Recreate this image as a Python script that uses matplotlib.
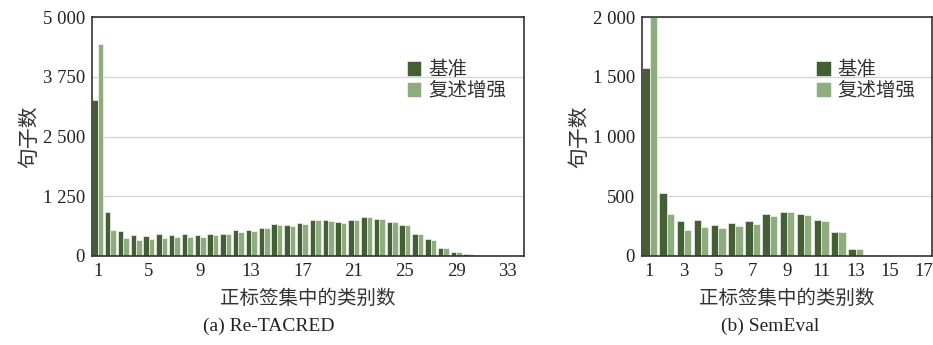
import matplotlib
matplotlib.use("Agg")
import matplotlib.pyplot as plt
import numpy as np
from matplotlib.ticker import FuncFormatter

plt.rcParams['font.family'] = ['Liberation Serif', 'Noto Sans CJK SC']

# Re-TACRED
re_cats = list(range(1, 35))
re_base = [3264, 920, 530, 433, 412, 454, 440, 454, 440, 467, 467, 551, 551, 592, 676,
           656, 683, 760, 746, 711, 760, 816, 774, 718, 656, 454, 349, 167, 84, 42,
           8, 4, 2, 1]
re_aug = [4435, 544, 370, 335, 362, 383, 397, 397, 397, 440, 454, 509, 523, 579, 649,
          628, 663, 746, 732, 690, 746, 810, 774, 718, 649, 454, 328, 167, 77, 35,
          6, 3, 1, 1]
re_ticks = [1, 5, 9, 13, 17, 21, 25, 29, 33]
re_yticks = [0, 1250, 2500, 3750, 5000]

# SemEval
se_cats = list(range(1, 18))
se_base = [1576, 530, 293, 299, 259, 276, 290, 349, 371, 354, 304, 198, 59, 5, 2, 1, 1]
se_aug = [2000, 351, 220, 243, 232, 248, 271, 332, 369, 343, 293, 198, 59, 4, 2, 1, 1]
se_ticks = [1, 3, 5, 7, 9, 11, 13, 15, 17]
se_yticks = [0, 500, 1000, 1500, 2000]

labels = ['基准', '复述增强']
colors = ['#445f36', '#8fac7f']
cjk = ['Noto Sans CJK SC', 'Liberation Serif']


def fmt(v, pos):
    return '{:,}'.format(int(v)).replace(',', ' ')


fig = plt.figure(figsize=(9.33, 3.45), dpi=100)
ax1 = fig.add_axes([92 / 933, 89 / 345, 432 / 933, 239 / 345])
ax2 = fig.add_axes([642 / 933, 89 / 345, 290 / 933, 239 / 345])

panels = [
    (ax1, re_cats, re_base, re_aug, re_ticks, re_yticks, '(a) Re-TACRED', 34.3, 269),
    (ax2, se_cats, se_base, se_aug, se_ticks, se_yticks, '(b) SemEval', 17.45, 770),
]

w = 0.43
for ax, cats, base, aug, xt, yt, cap, xmax, capx in panels:
    x = np.array(cats)
    ax.bar(x - w / 2, base, width=w, color=colors[0], edgecolor='white',
           linewidth=0.4, label=labels[0], zorder=2)
    ax.bar(x + w / 2, aug, width=w, color=colors[1], edgecolor='white',
           linewidth=0.4, label=labels[1], zorder=2)
    ax.set_xlim(0.56, xmax)
    ax.set_ylim(0, yt[-1])
    ax.set_xticks(xt)
    ax.set_yticks(yt)
    ax.yaxis.set_major_formatter(FuncFormatter(fmt))
    ax.yaxis.grid(True, color='#d4d4d4', linewidth=0.9, zorder=0)
    ax.tick_params(length=0, labelsize=13.5, colors='#222222', pad=5)
    for s in ax.spines.values():
        s.set_color('#333333')
        s.set_linewidth(1.2)
    ax.set_ylabel('句子数', family=cjk, fontsize=15, color='#333333', labelpad=2)
    ax.set_xlabel('正标签集中的类别数', family=cjk, fontsize=14, color='#333333', labelpad=6)
    fig.text(capx / 933, 1 - 318 / 345, cap, ha='center', va='top',
             fontsize=14, color='#222222')
    leg = ax.legend(loc='upper right', bbox_to_anchor=(0.99, 0.88), frameon=False,
                    prop={'family': cjk, 'size': 14}, handlelength=0.75,
                    handleheight=0.75, handletextpad=0.35, labelspacing=0.0,
                    borderaxespad=0.3)
    for t in leg.get_texts():
        t.set_color('#333333')

fig.savefig('out.png', dpi=100)
